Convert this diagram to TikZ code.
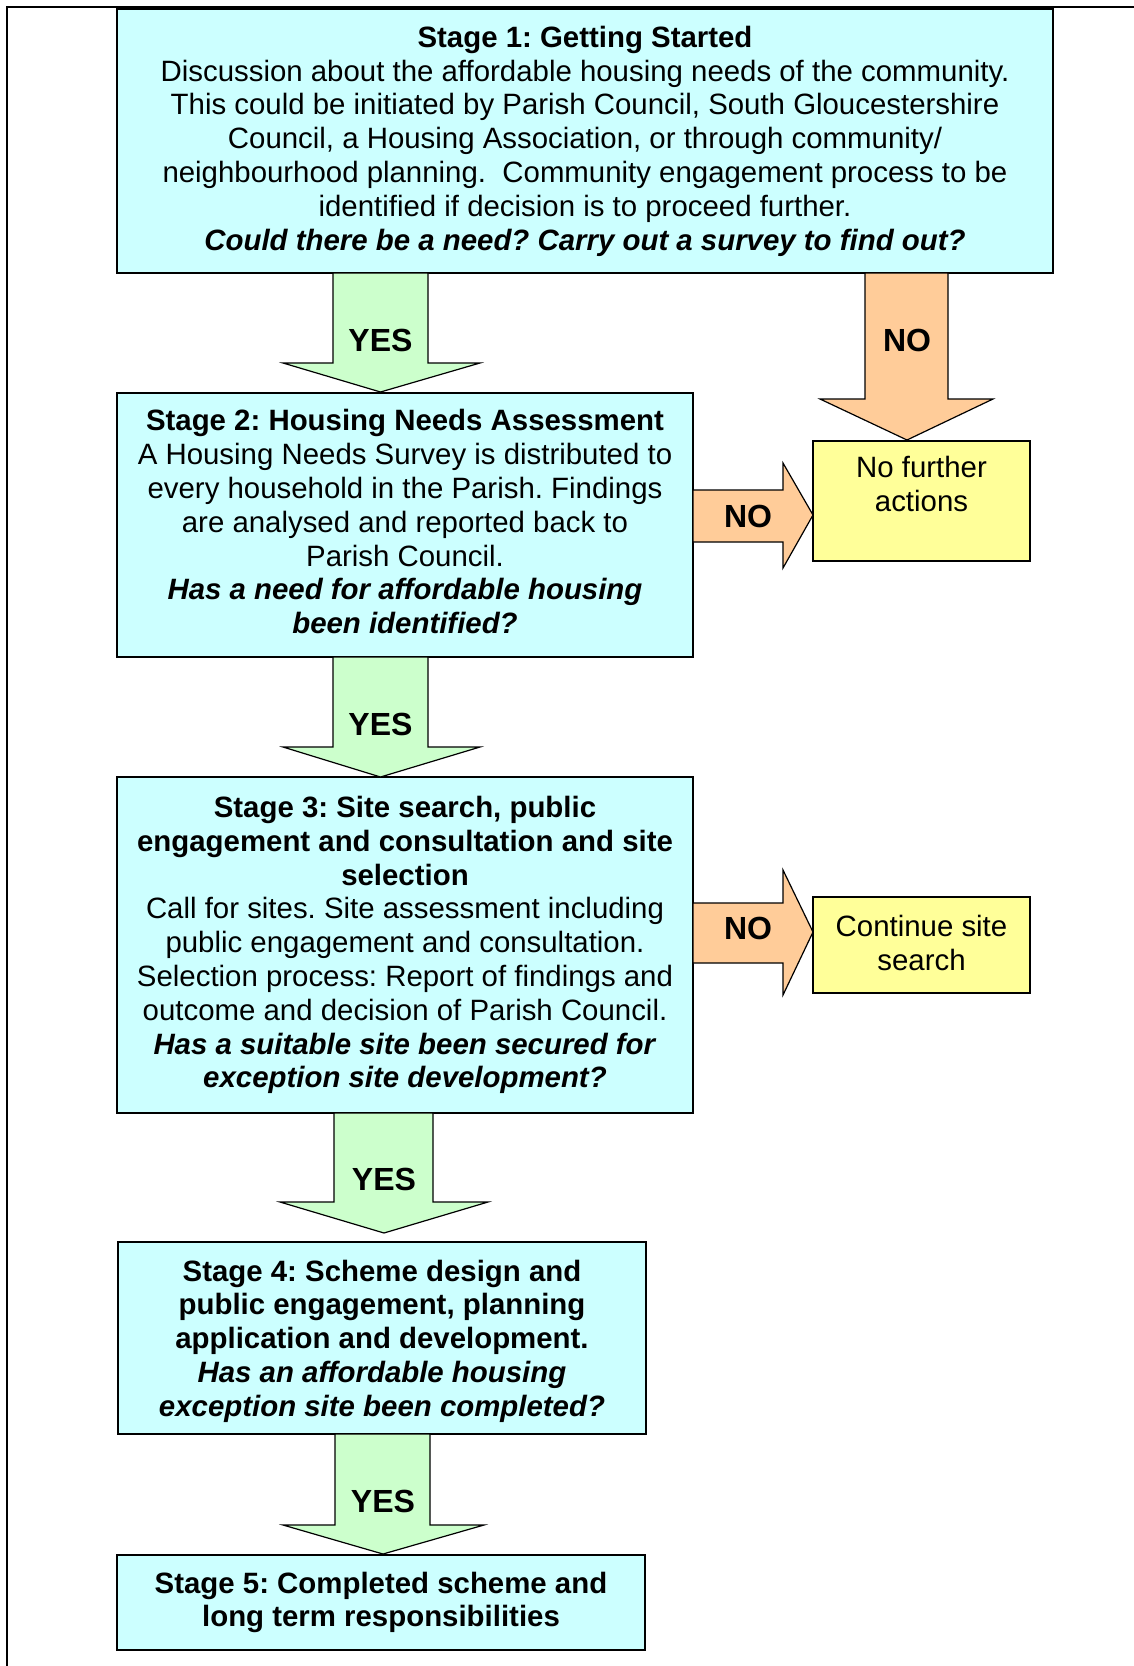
\documentclass[tikz,border=0pt]{standalone}
\usepackage{fontspec}
\setmainfont{Liberation Sans}
\frenchspacing
\definecolor{stagec}{HTML}{CCFFFF}
\definecolor{yesc}{HTML}{CCFFCC}
\definecolor{noc}{HTML}{FFCC99}
\definecolor{endc}{HTML}{FFFF99}
\tikzset{
  stagebox/.style={draw=black, line width=0.8pt, fill=stagec, inner sep=0pt, align=center,
    font=\fontsize{14.7}{16.9}\selectfont},
  endbox/.style={draw=black, line width=0.8pt, fill=endc, inner sep=0pt, align=center,
    font=\fontsize{14.7}{16.9}\selectfont},
  boxtext/.style={inner sep=0pt, align=center, font=\fontsize{14.7}{16.9}\selectfont},
  yesarrow/.style={draw=black, line width=0.6pt, fill=yesc},
  noarrow/.style={draw=black, line width=0.6pt, fill=noc},
  lbl/.style={font=\fontsize{16}{18}\selectfont\bfseries, inner sep=0pt},
}
\begin{document}
\begin{tikzpicture}[x=0.5pt,y=-0.5pt]
\useasboundingbox (0,0) rectangle (1134,1666);
% frame
\draw[line width=1pt] (7,1666) -- (7,7) -- (1134,7);

% boxes
\node[stagebox, minimum width=468pt, minimum height=132pt] (s1) at (585,141) {%
\textbf{Stage 1: Getting Started}\\
Discussion about the affordable housing needs of the community.\\
This could be initiated by Parish Council, South Gloucestershire\\
Council, a Housing Association, or through community/\\
neighbourhood planning.\ \ Community engagement process to be\\
identified if decision is to proceed further.\\
\textbf{\itshape Could there be a need? Carry out a survey to find out?}};

\node[stagebox, minimum width=288pt, minimum height=132pt] (s2) at (405,525) {};
\node[boxtext] (s2t) at (405,521.8) {%
\textbf{Stage 2: Housing Needs Assessment}\\
A Housing Needs Survey is distributed to\\
every household in the Parish. Findings\\
are analysed and reported back to\\
Parish Council.\\
\textbf{\itshape Has a need for affordable housing}\\
\textbf{\itshape been identified?}};

\node[stagebox, minimum width=288pt, minimum height=168pt] (s3) at (405,945) {%
\textbf{Stage 3: Site search, public}\\
\textbf{engagement and consultation and site}\\
\textbf{selection}\\
Call for sites. Site assessment including\\
public engagement and consultation.\\
Selection process: Report of findings and\\
outcome and decision of Parish Council.\\
\textbf{\itshape Has a suitable site been secured for}\\
\textbf{\itshape exception site development?}};

\node[stagebox, minimum width=264pt, minimum height=96pt] (s4) at (382,1338) {};
\node[boxtext] (s4t) at (382,1341) {%
\textbf{Stage 4: Scheme design and}\\
\textbf{public engagement, planning}\\
\textbf{application and development.}\\
\textbf{\itshape Has an affordable housing}\\
\textbf{\itshape exception site been completed?}};

\node[stagebox, minimum width=264pt, minimum height=47.5pt] (s5) at (381,1602.5) {%
\textbf{Stage 5: Completed scheme and}\\
\textbf{long term responsibilities}};

\node[endbox, minimum width=108.5pt, minimum height=60pt] (nfa) at (921.5,501) {%
No further\\actions\\\mbox{}};

\node[endbox, minimum width=108.5pt, minimum height=48pt] (css) at (921.5,945) {};
\node[boxtext] (csst) at (921.5,943) {Continue site\\search};

% YES arrows
\draw[yesarrow] (333,273) -- (333,363) -- (283,363) -- (380.5,392) -- (480,363) -- (428,363) -- (428,273) -- cycle;
\node[lbl] (y1) at (380.5,340) {YES};
\draw[yesarrow] (333,657) -- (333,747) -- (283,747) -- (380.5,777) -- (480,747) -- (428,747) -- (428,657) -- cycle;
\node[lbl] (y2) at (380.5,724) {YES};
\draw[yesarrow] (334,1113) -- (334,1202) -- (280,1202) -- (384,1233) -- (488,1202) -- (433,1202) -- (433,1113) -- cycle;
\node[lbl] (y3) at (384,1179) {YES};
\draw[yesarrow] (335,1434) -- (335,1525) -- (283,1525) -- (383,1554) -- (484,1525) -- (430,1525) -- (430,1434) -- cycle;
\node[lbl] (y4) at (383,1501) {YES};

% NO arrows
\draw[noarrow] (865,273) -- (865,399) -- (820,399) -- (907,440) -- (993,399) -- (948,399) -- (948,273) -- cycle;
\node[lbl] (n1) at (907,340) {NO};
\draw[noarrow] (693,490) -- (783,490) -- (783,463) -- (813,515) -- (783,568) -- (783,542) -- (693,542) -- cycle;
\node[lbl] (n2) at (748,516.5) {NO};
\draw[noarrow] (693,903) -- (783,903) -- (783,870) -- (813,932) -- (783,995) -- (783,963) -- (693,963) -- cycle;
\node[lbl] (n3) at (748,928) {NO};
\end{tikzpicture}
\end{document}
